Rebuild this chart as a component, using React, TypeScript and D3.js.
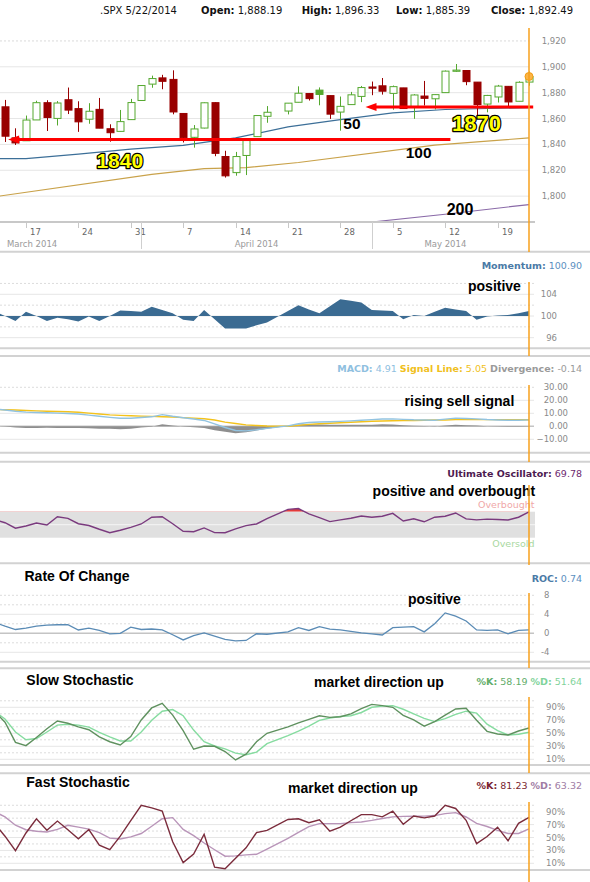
import React from 'react';
import * as d3 from 'd3';

// ---------- DATA ----------
const tradingDays = [
  '2014-03-13','2014-03-14','2014-03-17','2014-03-18','2014-03-19','2014-03-20','2014-03-21',
  '2014-03-24','2014-03-25','2014-03-26','2014-03-27','2014-03-28','2014-03-31',
  '2014-04-01','2014-04-02','2014-04-03','2014-04-04','2014-04-07','2014-04-08','2014-04-09',
  '2014-04-10','2014-04-11','2014-04-14','2014-04-15','2014-04-16','2014-04-17','2014-04-21',
  '2014-04-22','2014-04-23','2014-04-24','2014-04-25','2014-04-28','2014-04-29','2014-04-30',
  '2014-05-01','2014-05-02','2014-05-05','2014-05-06','2014-05-07','2014-05-08','2014-05-09',
  '2014-05-12','2014-05-13','2014-05-14','2014-05-15','2014-05-16','2014-05-19','2014-05-20',
  '2014-05-21','2014-05-22'
];
const openPx = [1869.06,1845.07,1842.81,1858.92,1872.25,1860.09,1874.53,1867.67,1859.48,1867.09,1852.11,1850.07,1859.16,
  1873.96,1886.61,1891.43,1890.25,1863.92,1845.48,1852.64,1872.28,1830.65,1818.18,1831.45,1846.01,1861.73,1865.79,
  1872.57,1879.32,1881.97,1877.72,1865.00,1870.78,1877.10,1884.39,1885.30,1879.45,1883.69,1868.53,1877.39,1875.27,
  1880.03,1896.75,1897.13,1888.16,1871.19,1876.66,1884.88,1873.34,1888.19];
const highPx = [1874.40,1852.44,1862.30,1873.76,1874.14,1873.49,1883.97,1873.34,1871.87,1875.92,1855.55,1866.63,1875.18,
  1885.84,1893.17,1893.80,1897.28,1864.04,1854.95,1872.43,1872.53,1835.07,1834.19,1844.02,1862.31,1869.63,1871.89,
  1884.89,1879.75,1884.06,1877.72,1877.01,1880.60,1885.20,1888.59,1891.33,1885.51,1883.69,1878.83,1889.07,1878.57,
  1897.13,1902.17,1897.13,1888.16,1878.28,1886.00,1884.88,1888.80,1896.33];
const lowPx = [1841.86,1839.57,1842.81,1858.92,1850.35,1854.63,1863.46,1849.69,1855.96,1852.56,1842.11,1850.07,1859.16,
  1873.96,1883.79,1882.65,1863.26,1841.48,1837.49,1852.38,1830.87,1814.36,1815.80,1816.29,1846.01,1856.72,1863.18,
  1872.57,1873.91,1870.24,1859.70,1850.61,1870.78,1872.69,1878.04,1878.50,1866.77,1867.72,1859.79,1870.05,1867.02,
  1880.03,1896.06,1885.77,1862.36,1864.82,1872.42,1868.14,1873.34,1885.39];
const closePx = [1846.34,1841.13,1858.83,1872.25,1860.77,1872.01,1866.52,1857.44,1865.62,1852.56,1849.04,1857.62,1872.34,
  1885.52,1890.90,1888.77,1865.09,1845.04,1851.96,1872.18,1833.08,1815.69,1830.61,1842.98,1862.31,1864.85,1871.89,
  1879.55,1875.39,1878.61,1863.40,1869.43,1878.33,1883.95,1883.68,1881.14,1884.66,1867.72,1878.21,1875.63,1878.48,
  1896.65,1897.45,1888.53,1870.85,1877.86,1885.08,1872.83,1888.03,1892.49];
const priorClose = 1868.2;

const sma50: [string, number][] = [['2014-03-12',1829],['2014-03-17',1829],['2014-03-24',1832.5],['2014-03-31',1836.3],
  ['2014-04-07',1839.3],['2014-04-14',1845],['2014-04-21',1853.5],['2014-04-28',1859.2],['2014-05-05',1864.4],
  ['2014-05-12',1867],['2014-05-22',1868.5]];
const sma100: [string, number][] = [['2014-03-12',1799.5],['2014-04-02',1816.8],['2014-04-09',1821.2],['2014-04-15',1822],
  ['2014-04-22',1826],['2014-05-09',1839.5],['2014-05-22',1845]];
const sma200: [string, number][] = [['2014-05-01',1780],['2014-05-12',1786],['2014-05-22',1793.5]];

const levels = [
  { label: '1840', value: 1843.8, fromDay: 0.3, toDay: 42.5 },
  { label: '1870', value: 1869.0, fromDay: 34.4, toDay: 50.4 },
];

const priceTicks = [1800, 1820, 1840, 1860, 1880, 1900, 1920];

const indicatorDays = ['2014-03-12', ...tradingDays];
const momentum = [100.9,100.0,99.1,100.8,100.0,99.1,99.7,99.4,99.0,99.9,99.1,100.0,101.0,100.9,100.8,101.7,101.1,100.5,99.3,99.1,101.1,99.4,97.7,97.7,97.7,98.3,98.8,
  100.9,102.0,101.2,100.5,101.8,103.1,102.8,102.5,101.1,101.0,100.9,99.4,100.2,100.0,100.8,101.5,101.2,100.9,99.3,99.9,100.1,100.2,100.5,100.9];
const macd = [13.3,12.5,11.6,10.9,10.6,10.4,10.1,9.9,9.5,8.6,7.7,6.9,6.2,6.2,6.8,7.3,9.0,7.7,6.6,5.6,4.5,1.8,-0.9,-3.2,-3.5,-2.7,-1.6,
  0.3,2.0,2.9,3.3,3.5,3.8,4.2,4.6,5.1,5.6,5.7,5.3,5.0,4.9,4.7,5.5,6.3,6.0,5.7,5.2,4.9,4.7,4.7,4.91];
const macdSignal = [12.9,12.7,12.5,12.2,11.9,11.6,11.4,11.2,10.8,10.1,9.5,8.8,8.4,8.1,7.8,7.6,7.4,7.1,6.7,6.3,5.8,4.8,3.2,2.2,1.1,0.6,0.2,
  0.0,0.7,1.5,2.0,2.4,2.7,3.1,3.5,3.9,4.1,4.3,4.4,4.5,4.6,4.8,4.9,5.1,5.1,5.1,5.1,5.1,5.1,5.05,5.05];
const macdDivergence = [0.4,-0.2,-0.9,-1.3,-1.3,-1.2,-1.3,-1.3,-1.3,-1.5,-1.8,-1.9,-2.2,-1.9,-1.0,-0.3,1.6,0.6,-0.1,-0.7,-1.3,-3.0,-4.1,-5.4,-4.6,-3.3,-1.8,
  0.3,1.3,1.4,1.3,1.1,1.1,1.1,1.1,1.2,1.5,1.4,0.9,0.5,0.3,-0.1,0.6,1.2,0.9,0.6,0.1,-0.2,-0.4,-0.35,-0.14];
const ultimateOsc = [58,53,44.6,48,52.5,49.5,62.2,59.8,51.5,48.8,43,37.7,41.5,46,51.1,61.5,62.3,51.5,40,39.2,45,37.8,37.7,43.5,48.5,51.1,59.5,
  73.5,74.8,66.5,60.8,54.8,57.5,60,63.4,61.5,63,67.5,55.7,59.2,54.5,61.5,63,68,59,57.5,58.5,58,57.2,61.5,69.78];
const roc = [2.3,1.5,0.8,1.1,1.5,1.7,1.8,1.8,0.7,1.1,0.6,-0.1,0.0,1.3,0.8,0.9,0.7,-0.3,-1.4,-0.5,0.1,-0.6,-1.3,-1.6,-1.5,-0.1,-0.2,
  0.3,1.2,0.6,1.4,0.9,0.7,0.4,0.1,-0.1,-0.35,1.2,1.3,1.4,0.3,2.0,4.3,3.6,2.6,0.7,0.6,0.7,-0.1,0.6,0.74];
const slowK = [84,67,36,31,43.5,57,69,65.5,60,55.5,44.5,37,32,45,70.5,89,96,78,54,25.5,30.5,30,22,9,18,37,50,
  60,66,71.5,77,74.5,75.5,80,88,94.5,92.5,90,77.5,70.5,61,68,78,87.4,88.5,70,53,49,47.5,53.5,58.19];
const slowD = [84,72,52,40,42,52,62.5,64,62.5,59.5,51.5,44.5,38.2,38.2,52,70,84,86.5,77,55,37,30.5,26,19.5,17,21,34,
  46.5,53.5,61,70,73.5,75.8,77,82,90,91.8,92.5,87,80,73,68,72.5,79,84,81,64,54,47.5,48.5,51.64];
const fastK = [72,52,29.5,57,79,61.3,75.5,62,48,62.3,38,31,52,76,100,96,91,43.3,11,24.4,55,4,1.5,18,34,57.7,61,
  78,79,73,77.5,59.7,66,76,85.4,85.4,82,91,70.5,83.3,80.5,83.3,100,95,76.7,40.5,51.5,66,44.9,72,81.23];
const fastD = [90,82,69,62,59.7,58.5,62.5,69,66,63,57.5,49,47.7,51,56.2,67.5,79,80.8,62.5,53,41.5,31,21,21.5,23,24,32,
  48.5,58,67,71.5,71.5,71.5,73,74.1,76.5,79.5,82,82.7,83,83.1,84,87,88.5,81.8,72,67,61,56.2,56.2,63.32];

const momTicks = [96, 100, 104];
const macdTicks = [30, 20, 10, 0, -10];
const rocTicks = [8, 4, 0, -4];
const stochTicks = [90, 70, 50, 30, 10];

// ---------- HELPERS ----------
const SANS = "'DejaVu Sans', Verdana, sans-serif";
const BOLD = "'Liberation Sans', Arial, Helvetica, sans-serif";
const GREEN = '#54a82e';
const RED = '#990000';
const ORANGE = '#f7a01c';
const GRID = '#e6e6e6';
const BORDER = '#d2d2d2';

function parseDay(s: string) {
  const [y, m, d] = s.split('-').map(Number);
  return new Date(y, m - 1, d);
}
const origin = parseDay('2014-03-13');
function weekdayIndex(s: string) {
  const t = parseDay(s);
  const cur = new Date(origin.getTime());
  const step = t.getTime() >= origin.getTime() ? 1 : -1;
  let n = 0;
  let guard = 0;
  while (!(cur.getFullYear() === t.getFullYear() && cur.getMonth() === t.getMonth() && cur.getDate() === t.getDate()) && guard < 500) {
    cur.setDate(cur.getDate() + step);
    const w = cur.getDay();
    if (w !== 0 && w !== 6) n += step;
    guard++;
  }
  return n;
}

const xDay = d3.scaleLinear().domain([0, 50]).range([5, 529]);
const yMain = d3.scaleLinear().domain([1780, 1930]).range([222, 28]);
const yMom = d3.scaleLinear().domain([96, 104]).range([337.7, 294.3]);
const yMacd = d3.scaleLinear().domain([-10, 30]).range([439.3, 387.3]);
const yUo = d3.scaleLinear().domain([30, 70]).range([537.7, 511.7]);
const yRoc = d3.scaleLinear().domain([-4, 8]).range([652.3, 595.3]);
const ySlow = d3.scaleLinear().domain([10, 90]).range([759.3, 707.3]);
const yFast = d3.scaleLinear().domain([10, 90]).range([863.3, 811.7]);

const indIdx = indicatorDays.map(weekdayIndex);

function seriesLine(vals: number[], y: d3.ScaleLinear<number, number>) {
  return d3.line<number>().x((_, k) => xDay(indIdx[k])).y((v) => y(v))(vals) || '';
}
function seriesArea(vals: number[], y: d3.ScaleLinear<number, number>, base: number) {
  return d3.area<number>().x((_, k) => xDay(indIdx[k])).y0(y(base)).y1((v) => y(v))(vals) || '';
}
function maLine(pts: [string, number][]) {
  return d3.line<[string, number]>().x((p) => xDay(weekdayIndex(p[0]))).y((p) => yMain(p[1]))(pts) || '';
}

const fmtComma = d3.format(',.2f');

function Grid({ vals, y, x2 = 534, dotted = [] as number[] }: any) {
  return (
    <g>
      {vals.map((v: number) => (
        <line key={v} x1={0} x2={x2} y1={y(v)} y2={y(v)} stroke={dotted.includes(v) ? '#dcdcdc' : GRID}
          strokeWidth={1} strokeDasharray={dotted.includes(v) ? '2,2' : undefined} />
      ))}
    </g>
  );
}

function Note({ x, y, text, size = 14 }: any) {
  return <text x={x} y={y} fontFamily={BOLD} fontWeight="bold" fontSize={size} fill="#000">{text}</text>;
}

export default function App() {
  React.useEffect(() => {
    document.body.style.margin = '0';
  }, []);

  const candles = tradingDays.map((d, i) => ({
    i: weekdayIndex(d), o: openPx[i], h: highPx[i], l: lowPx[i], c: closePx[i],
    prev: i ? closePx[i - 1] : priorClose,
  }));
  const mondays = tradingDays.filter((d) => parseDay(d).getDay() === 1);
  const monthStarts = tradingDays.filter((d, i) => i > 0 && parseDay(d).getMonth() !== parseDay(tradingDays[i - 1]).getMonth());
  const months = ['March 2014', 'April 2014', 'May 2014'];
  const sepX = monthStarts.map((d) => xDay(weekdayIndex(d)));
  const last = candles[candles.length - 1];
  const lastX = xDay(last.i);

  const borders = [251.7, 348.3, 356, 452.7, 461.7, 563.3, 661.7, 668.3, 765, 773.3, 870];
  const orangeSegs: [number, number][] = [[28, 252], [282, 356], [385, 462], [485, 565], [593, 668], [697, 773], [802, 882]];
  const stochGrid = d3.range(0, 101, 10);

  return (
    <svg width={590} height={882} style={{ position: 'absolute', left: 0, top: 0, background: '#fff' }} fontFamily={SANS}>
      <defs>
        <clipPath id="mainClip"><rect x={0} y={28} width={535} height={194} /></clipPath>
        <clipPath id="indClip"><rect x={0} y={0} width={529.5} height={882} /></clipPath>
        <clipPath id="uoAbove"><rect x={0} y={0} width={529.5} height={yUo(70)} /></clipPath>
      </defs>

      {/* Header */}
      <text x={100} y={14} fontSize={10} fill="#111">
        <tspan>.SPX 5/22/2014</tspan>
        <tspan x={201} fontWeight="bold">Open:</tspan><tspan> {fmtComma(last.o)}</tspan>
        <tspan x={301.7} fontWeight="bold">High:</tspan><tspan> {fmtComma(last.h)}</tspan>
        <tspan x={396} fontWeight="bold">Low:</tspan><tspan> {fmtComma(last.l)}</tspan>
        <tspan x={491} fontWeight="bold">Close:</tspan><tspan> {fmtComma(last.c)}</tspan>
      </text>

      {/* Main grid */}
      {priceTicks.map((v) => (
        <g key={v}>
          <line x1={0} x2={529} y1={yMain(v)} y2={yMain(v)} stroke={v === 1920 ? '#dadada' : GRID}
            strokeDasharray={v === 1920 ? '2,2' : undefined} />
          <text x={541.7} y={yMain(v) + 3} fontSize={8.5} fill="#8a8a8a">{d3.format(',')(v)}</text>
        </g>
      ))}

      <g clipPath="url(#mainClip)">
        <path d={maLine(sma100)} fill="none" stroke="#c9a24a" strokeWidth={1.2} />
        <path d={maLine(sma200)} fill="none" stroke="#8a6aa8" strokeWidth={1.2} />
        <path d={maLine(sma50)} fill="none" stroke="#3c6f98" strokeWidth={1.2} />
        {candles.map((k, n) => {
          const x = Math.round(xDay(k.i)) + 0.5;
          const col = k.c >= k.prev ? GREEN : RED;
          const hollow = k.c >= k.o;
          const top = yMain(Math.max(k.o, k.c));
          const bot = yMain(Math.min(k.o, k.c));
          return (
            <g key={n}>
              <line x1={x} x2={x} y1={yMain(k.h)} y2={yMain(k.l)} stroke={col} strokeWidth={1} />
              <rect x={x - 3.5} y={top} width={7} height={Math.max(1.2, bot - top)} fill={hollow ? '#fff' : col}
                stroke={col} strokeWidth={1} />
            </g>
          );
        })}
      </g>

      {/* support / resistance annotations */}
      {levels.map((lv) => {
        const y = yMain(lv.value);
        const x1 = xDay(lv.fromDay);
        const x2 = xDay(lv.toDay);
        return (
          <g key={lv.label}>
            <line x1={x1 + 6} x2={x2} y1={y} y2={y} stroke="#ff0000" strokeWidth={3} />
            <path d={`M${x1},${y}L${x1 + 11},${y - 4}L${x1 + 11},${y + 4}Z`} fill="#ff0000" />
          </g>
        );
      })}
      <text x={xDay(10.95)} y={167.5} textAnchor="middle" fontFamily={BOLD} fontWeight="bold" fontSize={21}
        fill="#ffff00" stroke="#000" strokeWidth={2.5} paintOrder="stroke" strokeLinejoin="round">1840</text>
      <text x={xDay(45.0)} y={131} textAnchor="middle" fontFamily={BOLD} fontWeight="bold" fontSize={22}
        fill="#ffff00" stroke="#000" strokeWidth={2.5} paintOrder="stroke" strokeLinejoin="round">1870</text>
      <Note x={343.3} y={129} text="50" size={15.5} />
      <Note x={405.7} y={158.3} text="100" size={15.5} />
      <Note x={446.7} y={215} text="200" size={16} />

      {/* last price marker */}
      <circle cx={lastX} cy={yMain(last.c)} r={4} fill="#fbb547" stroke="#f39c12" strokeWidth={1} />

      {/* x axis */}
      <line x1={0} x2={535} y1={222} y2={222} stroke="#c8c8c8" strokeWidth={2} />
      {mondays.map((d) => {
        const x = Math.round(xDay(weekdayIndex(d))) + 0.5;
        return (
          <g key={d}>
            <line x1={x} x2={x} y1={223} y2={228} stroke="#c8c8c8" />
            <text x={x + 3.5} y={235} fontSize={8.5} fill="#666">{parseDay(d).getDate()}</text>
          </g>
        );
      })}
      {sepX.map((x, k) => (
        <line key={k} x1={Math.round(x) + 0.5} x2={Math.round(x) + 0.5} y1={222} y2={249} stroke="#cfcfcf" />
      ))}
      <text x={7} y={246.5} fontSize={8.5} fill="#9a9a9a">{months[0]}</text>
      <text x={(sepX[0] + sepX[1]) / 2} y={246.5} fontSize={8.5} fill="#9a9a9a" textAnchor="middle">{months[1]}</text>
      <text x={(sepX[1] + 529) / 2 - 5} y={246.5} fontSize={8.5} fill="#9a9a9a" textAnchor="middle">{months[2]}</text>

      {/* panel borders */}
      {borders.map((y) => (
        <line key={y} x1={0} x2={590} y1={y} y2={y} stroke={BORDER} strokeWidth={2} />
      ))}

      {/* ---- Momentum ---- */}
      <Grid vals={[96, 98, 100, 102, 104, 106]} y={yMom} dotted={[98, 102, 106]} />
      <g clipPath="url(#indClip)">
        <path d={seriesArea(momentum, yMom, 100)} fill="#3b6b92" />
      </g>
      {momTicks.map((v) => (
        <text key={v} x={557} y={yMom(v) + 3} fontSize={8.5} fill="#8a8a8a" textAnchor="end">{v}</text>
      ))}
      <text x={582} y={268.5} fontSize={9.5} textAnchor="end">
        <tspan fontWeight="bold" fill="#4a7aa6">Momentum:</tspan>
        <tspan fill="#5b8fbf"> {momentum[momentum.length - 1].toFixed(2)}</tspan>
      </text>
      <Note x={468} y={290.5} text="positive" />

      {/* ---- MACD ---- */}
      <Grid vals={[-10, 10, 20, 30]} y={yMacd} dotted={[30]} />
      <line x1={0} x2={534} y1={yMacd(0)} y2={yMacd(0)} stroke="#c4c4c4" strokeWidth={1.5} />
      <g clipPath="url(#indClip)">
        <path d={seriesArea(macdDivergence, yMacd, 0)} fill="#8e8e8e" />
        <path d={seriesLine(macdSignal, yMacd)} fill="none" stroke="#f3c21b" strokeWidth={1.4} />
        <path d={seriesLine(macd, yMacd)} fill="none" stroke="#92c3e0" strokeWidth={1.4} />
      </g>
      {macdTicks.map((v) => (
        <text key={v} x={568} y={yMacd(v) + 3} fontSize={8.5} fill="#8a8a8a" textAnchor="end">{d3.format('.2f')(v)}</text>
      ))}
      <text x={582} y={371.8} fontSize={9.5} textAnchor="end">
        <tspan fontWeight="bold" fill="#8fc0df">MACD:</tspan>
        <tspan fill="#8fc0df"> {macd[macd.length - 1].toFixed(2)}  </tspan>
        <tspan fontWeight="bold" fill="#f0c020">Signal Line:</tspan>
        <tspan fill="#f0c020"> {macdSignal[macdSignal.length - 1].toFixed(2)}  </tspan>
        <tspan fontWeight="bold" fill="#9a9a9a">Divergence:</tspan>
        <tspan fill="#9a9a9a"> {macdDivergence[macdDivergence.length - 1].toFixed(2)}</tspan>
      </text>
      <Note x={404.6} y={405.5} text="rising sell signal" />

      {/* ---- Ultimate Oscillator ---- */}
      <rect x={0} y={yUo(70)} width={535} height={yUo(30) - yUo(70)} fill="#e0e0e0" />
      <line x1={0} x2={535} y1={yUo(50)} y2={yUo(50)} stroke="#f5f5f5" strokeWidth={1} />
      <g clipPath="url(#uoAbove)">
        <path d={seriesArea(ultimateOsc, yUo, 70)} fill="#e23b3b" />
      </g>
      <g clipPath="url(#indClip)">
        <path d={seriesLine(ultimateOsc, yUo)} fill="none" stroke="#7a3a7e" strokeWidth={1.4} />
      </g>
      <text x={534.5} y={508} fontSize={9.5} fill="#f0a8a8" textAnchor="end">Overbought</text>
      <text x={534.5} y={546.5} fontSize={9.5} fill="#a8d8a0" textAnchor="end">Oversold</text>
      <text x={582} y={476.8} fontSize={9.5} textAnchor="end">
        <tspan fontWeight="bold" fill="#4d1a50">Ultimate Oscillator:</tspan>
        <tspan fill="#6d2a70"> {ultimateOsc[ultimateOsc.length - 1].toFixed(2)}</tspan>
      </text>
      <Note x={372.6} y={495.5} text="positive and overbought" />

      {/* ---- ROC ---- */}
      <Grid vals={[-4, -2, 2, 4, 6, 8]} y={yRoc} dotted={[-2, 2, 6, 8]} />
      <line x1={0} x2={534} y1={yRoc(0)} y2={yRoc(0)} stroke="#c4c4c4" strokeWidth={1.5} />
      <g clipPath="url(#indClip)">
        <path d={seriesLine(roc, yRoc)} fill="none" stroke="#5a8bb5" strokeWidth={1.3} />
      </g>
      {rocTicks.map((v) => (
        <text key={v} x={549.5} y={yRoc(v) + 3} fontSize={8.5} fill="#8a8a8a" textAnchor="end">{v}</text>
      ))}
      <text x={582} y={581.8} fontSize={9.5} textAnchor="end">
        <tspan fontWeight="bold" fill="#4a7aa6">ROC:</tspan>
        <tspan fill="#5b8fbf"> {roc[roc.length - 1].toFixed(2)}</tspan>
      </text>
      <Note x={24.5} y={581} text="Rate Of Change" />
      <Note x={408} y={603.8} text="positive" />

      {/* ---- Slow Stochastic ---- */}
      <Grid vals={stochGrid.filter((v) => v > 0)} y={ySlow} dotted={stochGrid.filter((v) => v % 20 === 0)} />
      <g clipPath="url(#indClip)">
        <path d={seriesLine(slowD, ySlow)} fill="none" stroke="#86dca0" strokeWidth={1.4} />
        <path d={seriesLine(slowK, ySlow)} fill="none" stroke="#5f915f" strokeWidth={1.4} />
      </g>
      {stochTicks.map((v) => (
        <text key={v} x={565} y={ySlow(v) + 3} fontSize={8.5} fill="#8a8a8a" textAnchor="end">{v}%</text>
      ))}
      <text x={582} y={685} fontSize={9.5} textAnchor="end">
        <tspan fontWeight="bold" fill="#62ad6a">%K:</tspan>
        <tspan fill="#62ad6a"> {slowK[slowK.length - 1].toFixed(2)}  </tspan>
        <tspan fontWeight="bold" fill="#7fd39a">%D:</tspan>
        <tspan fill="#7fd39a"> {slowD[slowD.length - 1].toFixed(2)}</tspan>
      </text>
      <Note x={26.3} y={685} text="Slow Stochastic" />
      <Note x={314} y={687} text="market direction up" />

      {/* ---- Fast Stochastic ---- */}
      <Grid vals={stochGrid.filter((v) => v > 0)} y={yFast} dotted={stochGrid.filter((v) => v % 20 === 0)} />
      <g clipPath="url(#indClip)">
        <path d={seriesLine(fastD, yFast)} fill="none" stroke="#b995b9" strokeWidth={1.4} />
        <path d={seriesLine(fastK, yFast)} fill="none" stroke="#7b2c3c" strokeWidth={1.4} />
      </g>
      {stochTicks.map((v) => (
        <text key={v} x={565} y={yFast(v) + 3} fontSize={8.5} fill="#8a8a8a" textAnchor="end">{v}%</text>
      ))}
      <text x={582} y={789} fontSize={9.5} textAnchor="end">
        <tspan fontWeight="bold" fill="#7a1f30">%K:</tspan>
        <tspan fill="#7a1f30"> {fastK[fastK.length - 1].toFixed(2)}  </tspan>
        <tspan fontWeight="bold" fill="#a07ca4">%D:</tspan>
        <tspan fill="#a07ca4"> {fastD[fastD.length - 1].toFixed(2)}</tspan>
      </text>
      <Note x={26.3} y={786.7} text="Fast Stochastic" />
      <Note x={288} y={793} text="market direction up" />

      {/* orange "today" line */}
      {orangeSegs.map(([a, b], k) => (
        <line key={k} x1={lastX} x2={lastX} y1={a} y2={b} stroke={ORANGE} strokeWidth={1.5} />
      ))}
    </svg>
  );
}
